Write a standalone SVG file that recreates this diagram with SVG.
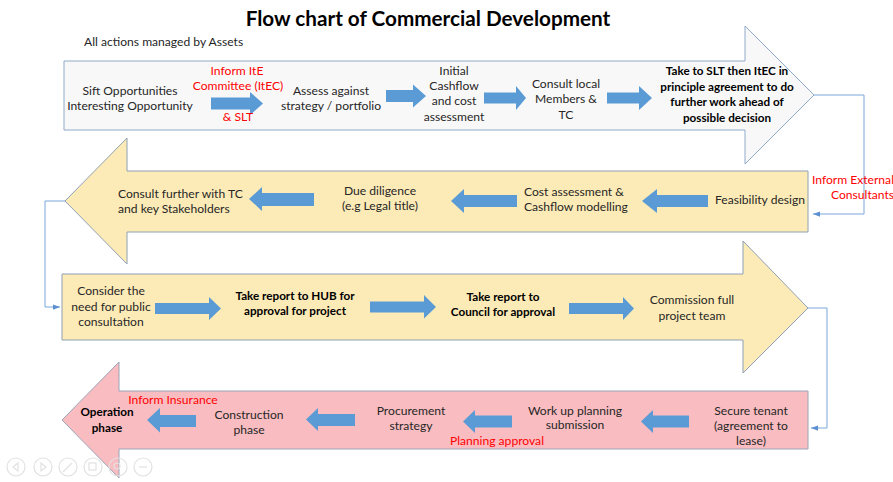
<svg xmlns="http://www.w3.org/2000/svg" width="893" height="482" viewBox="0 0 893 482">
<style>
  text { font-family: Lato, "Liberation Sans", sans-serif; font-size: 12.1px; fill: #262626; }
  .c { text-anchor: middle; }
  .b { font-weight: bold; fill: #000; font-size: 11.7px; }
  .r { fill: #FF0000; }
  .title { font-size: 20.7px; font-weight: bold; fill: #000; text-anchor: middle; }
  .band1 { fill: #F8F8F8; stroke: #8FAAC9; stroke-width: 1; }
  .bandY { fill: #FDEBB7; stroke: #8FA0B4; stroke-width: 1; }
  .bandP { fill: #F9BCC0; stroke: #9AA6B8; stroke-width: 1; }
  .blk { fill: #5B9BD5; }
  .conn { fill: none; stroke: #7BA7DB; stroke-width: 1; }
  .ui { fill: none; stroke: #E2E2E2; stroke-width: 1.2; }
</style>
<defs>
  <marker id="ah" viewBox="0 0 8 8" refX="8" refY="4" markerWidth="7" markerHeight="7" orient="auto" markerUnits="userSpaceOnUse">
    <path d="M0,1 L8,4 L0,7 Z" fill="#5B8FD0"/>
  </marker>
</defs>

<text class="title" x="428" y="26">Flow chart of Commercial Development</text>
<text x="84" y="46">All actions managed by Assets</text>

<!-- Row 1 band -->
<g id="band1">
  <path class="band1" d="M64,61 L745,61 L745,26 L814,95 L745,164 L745,130 L64,130 Z"/>
</g>
<!-- Row 2 band -->
<g id="band2">
  <path class="bandY" d="M808,171 L127,171 L127,138 L65,201 L127,264 L127,232 L808,232 Z"/>
</g>
<!-- Row 3 band -->
<g id="band3">
  <path class="bandY" d="M62,274 L743,274 L743,241 L808,308 L743,373 L743,340 L62,340 Z"/>
</g>
<!-- Row 4 band -->
<g id="band4">
  <path class="bandP" d="M808,391 L119,391 L119,362 L62,420 L119,478 L119,449 L808,449 Z"/>
</g>

<!-- connectors -->
<g id="connectors">
  <polyline class="conn" points="814,95 864,95 864,214 813,214" marker-end="url(#ah)"/>
  <polyline class="conn" points="65,201 45,201 45,307 60,307" marker-end="url(#ah)"/>
  <polyline class="conn" points="808,308 827,308 827,428 811,428" marker-end="url(#ah)"/>
</g>

<!-- block arrows -->
<g id="block-arrows">
  <path class="blk" d="M211,97.5 L250,97.5 L250,92 L263,103.5 L250,115 L250,109.5 L211,109.5 Z"/>
  <path class="blk" d="M386,90 L413,90 L413,84.5 L426,96 L413,107.5 L413,102 L386,102 Z"/>
  <path class="blk" d="M484,92.5 L516,92.5 L516,86 L526,98 L516,110 L516,103.5 L484,103.5 Z"/>
  <path class="blk" d="M607,92.5 L639,92.5 L639,86 L652,98 L639,110 L639,103.5 L607,103.5 Z"/>

  <path class="blk" d="M708,195 L657,195 L657,189 L642,201 L657,213 L657,207 L708,207 Z"/>
  <path class="blk" d="M517,195 L464,195 L464,189 L451,201 L464,213 L464,207 L517,207 Z"/>
  <path class="blk" d="M314,193 L262,193 L262,187 L249,199 L262,211 L262,206 L314,206 Z"/>

  <path class="blk" d="M155,303 L209,303 L209,297 L221,308.5 L209,320 L209,314 L155,314 Z"/>
  <path class="blk" d="M370,301.5 L424,301.5 L424,295 L436,307 L424,318.5 L424,312.5 L370,312.5 Z"/>
  <path class="blk" d="M569,303 L623,303 L623,297 L634,308.5 L623,320 L623,314 L569,314 Z"/>

  <path class="blk" d="M689,415.5 L653,415.5 L653,410 L641,421.5 L653,433 L653,427.5 L689,427.5 Z"/>
  <path class="blk" d="M512,415.5 L475,415.5 L475,410 L463,421.5 L475,433 L475,427.5 L512,427.5 Z"/>
  <path class="blk" d="M355,414 L318,414 L318,408 L306,419.5 L318,431 L318,426 L355,426 Z"/>
  <path class="blk" d="M196,415 L160,415 L160,408 L147,420 L160,432.5 L160,427 L196,427 Z"/>
</g>

<!-- Row 1 nodes -->
<g id="n-sift">
  <text class="c" x="130" y="95">Sift Opportunities</text>
  <text class="c" x="130" y="110">Interesting Opportunity</text>
</g>
<g id="lbl-inform-itec">
  <text class="c r" x="237" y="75">Inform ItE</text>
  <text class="c r" x="238" y="90">Committee (ItEC)</text>
  <text class="c r" x="238" y="121">&amp; SLT</text>
</g>
<g id="n-assess">
  <text class="c" x="331" y="95">Assess against</text>
  <text class="c" x="331" y="110">strategy / portfolio</text>
</g>
<g id="n-initial">
  <text class="c" x="454" y="75">Initial</text>
  <text class="c" x="454" y="90">Cashflow</text>
  <text class="c" x="454" y="105">and cost</text>
  <text class="c" x="454" y="120.5">assessment</text>
</g>
<g id="n-consult-local">
  <text class="c" x="566" y="87.5">Consult local</text>
  <text class="c" x="566" y="103">Members &amp;</text>
  <text class="c" x="566" y="118.5">TC</text>
</g>
<g id="n-slt">
  <text class="c b" x="727" y="75">Take to SLT then ItEC in</text>
  <text class="c b" x="727" y="91">principle agreement to do</text>
  <text class="c b" x="727" y="106">further work ahead of</text>
  <text class="c b" x="727" y="122">possible decision</text>
</g>
<g id="lbl-inform-external">
  <text class="r" x="894" y="183.5" text-anchor="end">Inform External</text>
  <text class="r" x="894" y="198.5" text-anchor="end">Consultants</text>
</g>

<!-- Row 2 nodes -->
<g id="n-feasibility">
  <text class="c" x="760" y="204">Feasibility design</text>
</g>
<g id="n-cost">
  <text x="524" y="196">Cost assessment &amp;</text>
  <text x="524" y="211">Cashflow modelling</text>
</g>
<g id="n-due">
  <text class="c" x="380" y="194.5">Due diligence</text>
  <text class="c" x="380" y="210">(e.g Legal title)</text>
</g>
<g id="n-consult-further">
  <text x="118" y="198">Consult further with TC</text>
  <text x="118" y="213">and key Stakeholders</text>
</g>

<!-- Row 3 nodes -->
<g id="n-consider">
  <text class="c" x="111" y="295">Consider the</text>
  <text class="c" x="111" y="310.5">need for public</text>
  <text class="c" x="111" y="326">consultation</text>
</g>
<g id="n-hub">
  <text class="c b" x="295" y="300">Take report to HUB for</text>
  <text class="c b" x="295" y="315">approval for project</text>
</g>
<g id="n-council">
  <text class="c b" x="503" y="301">Take report to</text>
  <text class="c b" x="503" y="316">Council for approval</text>
</g>
<g id="n-commission">
  <text class="c" x="692" y="304">Commission full</text>
  <text class="c" x="692" y="319.5">project team</text>
</g>

<!-- Row 4 nodes -->
<g id="n-tenant">
  <text class="c" x="751" y="415">Secure tenant</text>
  <text class="c" x="751" y="430">(agreement to</text>
  <text class="c" x="751" y="445">lease)</text>
</g>
<g id="n-workup">
  <text class="c" x="575" y="414.5">Work up planning</text>
  <text class="c" x="575" y="429">submission</text>
</g>
<g id="lbl-planning">
  <text class="c r" x="497" y="445">Planning approval</text>
</g>
<g id="n-procurement">
  <text class="c" x="411" y="414.5">Procurement</text>
  <text class="c" x="411" y="429.5">strategy</text>
</g>
<g id="n-construction">
  <text class="c" x="249" y="418.5">Construction</text>
  <text class="c" x="249" y="433.5">phase</text>
</g>
<g id="lbl-insurance">
  <text class="c r" x="173" y="403.5">Inform Insurance</text>
</g>
<g id="n-operation">
  <text class="c b" x="107" y="416">Operation</text>
  <text class="c b" x="107" y="432">phase</text>
</g>

<!-- faint slideshow controls -->
<g id="ui-controls">
  <circle class="ui" cx="16" cy="467" r="9"/>
  <path class="ui" d="M18,463 L13,467 L18,471 Z"/>
  <circle class="ui" cx="43" cy="467" r="9"/>
  <path class="ui" d="M41,463 L46,467 L41,471 Z"/>
  <circle class="ui" cx="68" cy="467" r="9"/>
  <path class="ui" d="M63,472 L72,463"/>
  <circle class="ui" cx="93" cy="467" r="9"/>
  <rect class="ui" x="89" y="463" width="7" height="7"/>
  <circle class="ui" cx="118" cy="467" r="9"/>
  <circle class="ui" cx="117" cy="466" r="3"/>
  <circle class="ui" cx="143" cy="467" r="9"/>
  <path class="ui" d="M139,467 L147,467"/>
</g>
</svg>
